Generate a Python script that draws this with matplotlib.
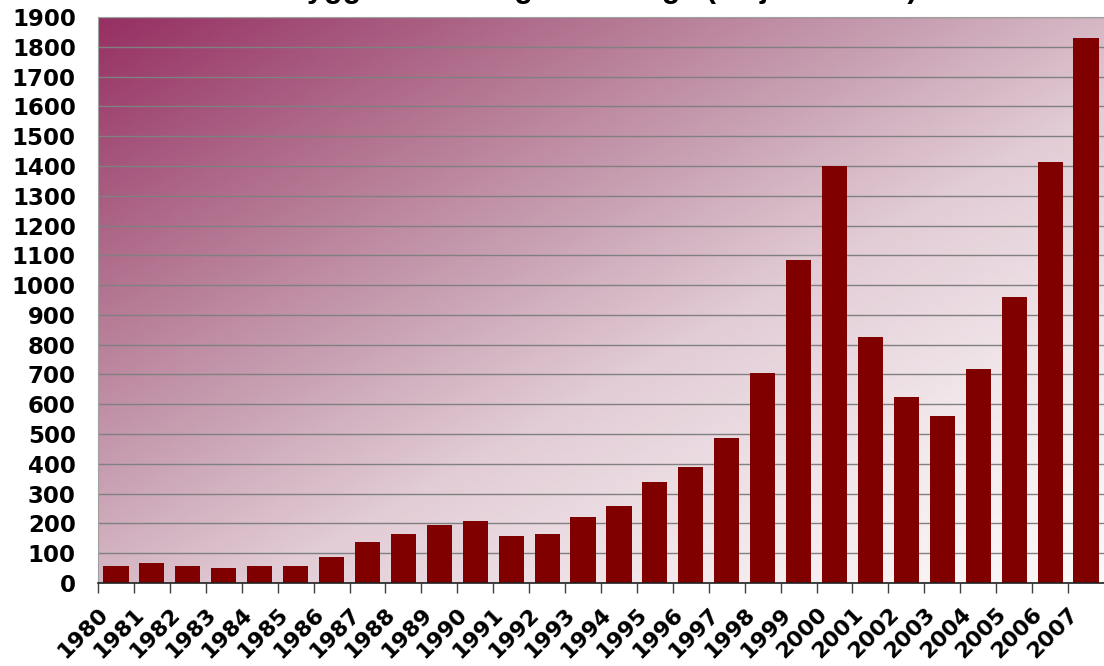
import numpy as np
import matplotlib
matplotlib.use("Agg")
import matplotlib.pyplot as plt
from matplotlib.colors import LinearSegmentedColormap

years = [str(y) for y in range(1980, 2008)]
values = [58, 68, 58, 52, 57, 57, 88, 138, 164, 195, 208, 158, 164, 222,
          258, 339, 389, 487, 705, 1084, 1400, 826, 624, 561, 718, 960,
          1413, 1830]
title = "Byggare och dagar i Sverige (miljoner USD)"
y_ticks = list(range(0, 2000, 100))

W, H, DPI = 1104, 666, 100
fig = plt.figure(figsize=(W / DPI, H / DPI), dpi=DPI)
fig.patch.set_facecolor("white")
ax = fig.add_axes([98 / W, 83 / H, 1006 / W, 566 / H])

# diagonal background gradient: deep plum top-left fading to white bottom-right
nx, ny = 400, 240
gx = np.linspace(0, 1, nx)
gy = np.linspace(0, 1, ny)
GX, GY = np.meshgrid(gx, gy)
t = 0.5 * GX + 0.5 * GY  # row 0 is the top (origin='upper')
cmap = LinearSegmentedColormap.from_list(
    "plum", [(0.0, "#963063"), (0.22, "#b06e8c"), (0.42, "#c9a2b4"),
             (0.58, "#e2ccd5"), (0.78, "#f2e8ec"), (1.0, "#fcfafb")])
ax.imshow(t, cmap=cmap, vmin=0, vmax=1, extent=[0, 1, 0, 1],
          transform=ax.transAxes, aspect="auto", zorder=0,
          interpolation="bilinear")

n = len(years)
x = np.arange(n)
ax.bar(x + 0.5, values, width=0.70, color="#800000", zorder=2)

ax.set_xlim(0, n)
ax.set_ylim(0, 1900)
ax.set_yticks(y_ticks)
ax.set_yticklabels([str(v) for v in y_ticks], fontsize=16.5, fontweight="bold",
                   family="DejaVu Sans")
ax.yaxis.grid(True, color="#808080", linewidth=1.0, zorder=1)
ax.set_axisbelow(True)
ax.tick_params(axis="y", length=0, pad=16)

ax.set_xticks(x)
ax.set_xticklabels(years, rotation=45, ha="right", va="top",
                   rotation_mode="anchor", fontsize=16, fontweight="bold",
                   family="DejaVu Sans")
ax.tick_params(axis="x", length=7, width=1, color="#404040", pad=8)

ax.spines["left"].set_color("#a0a0a0")
ax.spines["top"].set_color("#a0a0a0")
ax.spines["right"].set_visible(False)
ax.spines["bottom"].set_color("#202020")
ax.spines["bottom"].set_linewidth(1.2)

# chart title sits above the top edge of the figure, only its lower part shows
fig.text(0.545, 1 + 3 / H, title, ha="center", va="baseline",
         fontsize=22, fontweight="bold", family="Liberation Sans")

fig.savefig("out.png", dpi=DPI)
